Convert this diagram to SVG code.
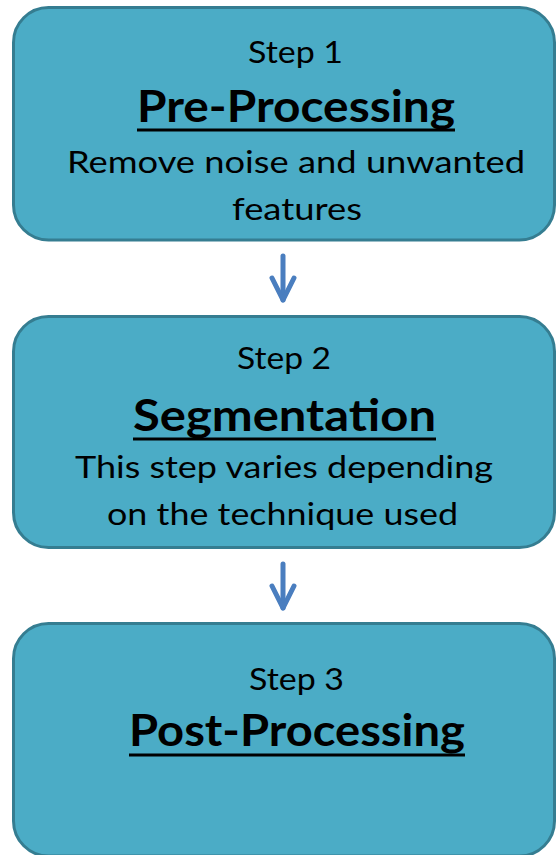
<svg xmlns="http://www.w3.org/2000/svg" width="559" height="855" viewBox="0 0 559 855">
  <style>
    .box { fill: #4BACC6; stroke: #357D91; stroke-width: 3; }
    .t { font-family: Lato, "Open Sans", "Liberation Sans", sans-serif; font-size: 30px; fill: #000; text-anchor: middle; }
    .h { font-family: Lato, "Open Sans", "Liberation Sans", sans-serif; font-size: 43px; font-weight: bold; fill: #000; text-anchor: middle; }
    .ul { stroke: #000; stroke-width: 3; }
    .conn { stroke: #4A7EBF; stroke-width: 5; stroke-linecap: round; fill: none; }
  </style>
  <defs>
    <marker id="head" markerUnits="userSpaceOnUse" viewBox="-26 -15 30 30" markerWidth="30" markerHeight="30" refX="0" refY="0" orient="auto">
      <path d="M-22,-11 L0,0 L-22,11" fill="none" stroke="#4A7EBF" stroke-width="5" stroke-linecap="round" stroke-linejoin="round"/>
    </marker>
  </defs>
  <rect width="559" height="855" fill="#FFFFFF"/>

  <g id="step1">
    <rect class="box" x="13.5" y="7.5" width="541" height="232.5" rx="35" ry="35"/>
    <text class="t" x="295.5" y="63" textLength="95" lengthAdjust="spacingAndGlyphs">Step 1</text>
    <text class="h" x="296" y="122" textLength="318" lengthAdjust="spacingAndGlyphs">Pre-Processing</text>
    <line class="ul" x1="137" y1="130" x2="455" y2="130"/>
    <text class="t" x="296" y="173" textLength="458" lengthAdjust="spacingAndGlyphs">Remove noise and unwanted</text>
    <text class="t" x="297" y="220" textLength="130" lengthAdjust="spacingAndGlyphs">features</text>
  </g>

  <g id="step2">
    <rect class="box" x="13.5" y="316.5" width="541" height="231" rx="35" ry="35"/>
    <text class="t" x="284" y="369" textLength="94" lengthAdjust="spacingAndGlyphs">Step 2</text>
    <text class="h" x="284.5" y="431" textLength="303" lengthAdjust="spacingAndGlyphs">Segmentation</text>
    <line class="ul" x1="133" y1="439" x2="436" y2="439"/>
    <text class="t" x="284" y="478" textLength="418" lengthAdjust="spacingAndGlyphs">This step varies depending</text>
    <text class="t" x="282.5" y="525" textLength="351" lengthAdjust="spacingAndGlyphs">on the technique used</text>
  </g>

  <g id="step3">
    <rect class="box" x="13.5" y="623.5" width="541" height="232.5" rx="35" ry="35"/>
    <text class="t" x="296.5" y="690" textLength="95" lengthAdjust="spacingAndGlyphs">Step 3</text>
    <text class="h" x="297" y="746" textLength="336" lengthAdjust="spacingAndGlyphs">Post-Processing</text>
    <line class="ul" x1="129" y1="755" x2="465" y2="755"/>
  </g>

  <g id="connectors">
    <line class="conn" x1="283" y1="256" x2="283" y2="300" marker-end="url(#head)"/>
    <line class="conn" x1="283" y1="564" x2="283" y2="608" marker-end="url(#head)"/>
  </g>
</svg>
